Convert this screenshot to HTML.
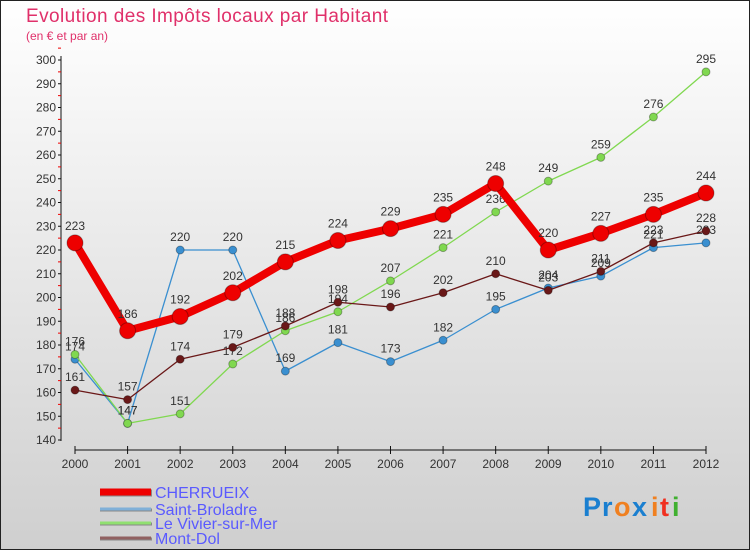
<!DOCTYPE html>
<html><head><meta charset="utf-8"><style>
body{margin:0;width:750px;height:550px;overflow:hidden;font-family:"Liberation Sans",sans-serif}
svg text{font-family:"Liberation Sans",sans-serif}
</style></head><body>
<svg id="c" width="750" height="550" xmlns="http://www.w3.org/2000/svg">
<defs><linearGradient id="bg" x1="0" y1="0" x2="0" y2="1"><stop offset="0" stop-color="#ffffff"/><stop offset="1" stop-color="#cfcfcf"/></linearGradient></defs>
<rect x="0.5" y="0.5" width="749" height="549" fill="url(#bg)" stroke="#222"/>
<text x="26" y="22" font-size="19" fill="#e0306a" textLength="362">Evolution des Impôts locaux par Habitant</text>
<text x="26" y="40" font-size="12" fill="#e0306a">(en € et par an)</text>
<g id="axes"></g><g id="series"></g><g id="legend"></g>
<g font-size="27" font-weight="bold">
<text x="583" y="516" fill="#1a7fd0">P</text><text x="602" y="516" fill="#1a7fd0">r</text><text x="614" y="516" fill="#f08020">o</text><text x="632" y="516" fill="#1a7fd0">x</text><text x="651" y="516" fill="#f08020">i</text><text x="660" y="516" fill="#f03020">t</text><text x="672" y="516" fill="#40b030">i</text>
</g>
</svg>
<script>
const years=[2000,2001,2002,2003,2004,2005,2006,2007,2008,2009,2010,2011,2012];
const cherrueix=[223,186,192,202,215,224,229,235,248,220,227,235,244];
const saintBroladre=[174,147,220,220,169,181,173,182,195,204,209,221,223];
const vivier=[176,147,151,172,186,194,207,221,236,249,259,276,295];
const montDol=[161,157,174,179,188,198,196,202,210,203,211,223,228];
const yTicks=[140,150,160,170,180,190,200,210,220,230,240,250,260,270,280,290,300];
const NS="http://www.w3.org/2000/svg";
const x=i=>75+i*(706-75)/(years.length-1);
const y=v=>440-(v-140)*(380/160);
function mk(t,a,p){const e=document.createElementNS(NS,t);for(const k in a)e.setAttribute(k,a[k]);p.appendChild(e);return e;}
const ax=document.getElementById('axes');
let l=mk('line',{x1:61,y1:56,x2:61,y2:441,stroke:'#111'},ax);


yTicks.forEach(v=>{
 mk('line',{x1:58,y1:y(v),x2:61,y2:y(v),stroke:'#111'},ax);
 mk('line',{x1:58,y1:y(v+5),x2:61,y2:y(v+5),stroke:'#e00'},ax);
 const t=mk('text',{x:56,y:y(v)+4,'font-size':12,'text-anchor':'end',fill:'#333'},ax);t.textContent=v;
 
 
});
l=mk('line',{x1:75,y1:450,x2:706,y2:450,stroke:'#111'},ax);


years.forEach((yr,i)=>{
 mk('line',{x1:x(i),y1:446,x2:x(i),y2:454,stroke:'#111'},ax);
 const t=mk('text',{x:x(i),y:468,'font-size':12,'text-anchor':'middle',fill:'#333'},ax);t.textContent=yr;
 
 
});
const sg=document.getElementById('series');
const series=[
 {name:'saint-broladre',d:saintBroladre,c:'#3a8fd0',w:1.3,r:4},
 {name:'le-vivier-sur-mer',d:vivier,c:'#80d850',w:1.3,r:4},
 {name:'mont-dol',d:montDol,c:'#6a1818',w:1.3,r:4},
 {name:'cherrueix',d:cherrueix,c:'#ee0000',w:8,r:8}];
series.forEach(s=>{
 const g=mk('g',{},sg);
 
 
 const p=mk('polyline',{points:s.d.map((v,i)=>x(i)+','+y(v)).join(' '),fill:'none',stroke:s.c,'stroke-width':s.w,'stroke-linejoin':'round'},g);
 
 
 s.d.forEach((v,i)=>{
  const c=mk('circle',{cx:x(i),cy:y(v),r:s.r,fill:s.c,stroke:'rgba(0,0,0,0.3)','stroke-width':1},g);
  
  
  const t=mk('text',{x:x(i),y:y(v)-(s.r+5),'font-size':12,'text-anchor':'middle',fill:'#333'},g);t.textContent=v;
  
  
 });
});
const lg=document.getElementById('legend');
const leg=[['CHERRUEIX','#ee0000',7,492],['Saint-Broladre','#80b0d8',3,509],['Le Vivier-sur-Mer','#90e070',3,523],['Mont-Dol','#906060',3,538]];
leg.forEach(e=>{
 const g=mk('g',{},lg);
 
 
 mk('line',{x1:100,y1:e[3]+1,x2:152,y2:e[3]+1,stroke:'#888','stroke-width':e[2]},g);
 mk('line',{x1:100,y1:e[3],x2:151,y2:e[3],stroke:e[1],'stroke-width':e[2]},g);
 const t=mk('text',{x:155,y:e[3]+6,'font-size':16,fill:'#5a5aff'},g);t.textContent=e[0];
});
</script>
</body></html>
